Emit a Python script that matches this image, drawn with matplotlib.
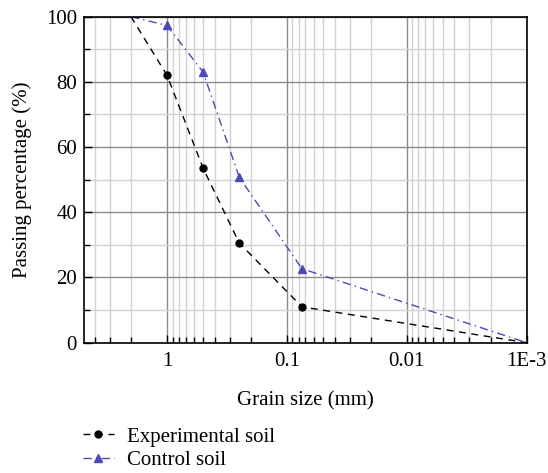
import matplotlib.pyplot as plt
from matplotlib.ticker import FixedLocator, FixedFormatter, LogLocator, MultipleLocator, NullFormatter

plt.rcParams['font.family'] = ['Liberation Serif', 'DejaVu Serif']

# ----------------------------
grain_size   = [2, 1, 0.5, 0.25, 0.075, 0.001]
experimental = [100, 82, 53.5, 30.6, 11.0, 0]
control      = [100, 97.3, 83, 50.8, 22.7, 0]

xtick_values = [1, 0.1, 0.01, 0.001]
xtick_labels = ['1', '0.1', '0.01', '1E-3']
# ----------------------------

fig = plt.figure(figsize=(5.48, 4.73), dpi=100)
ax  = fig.add_axes([0.1533, 0.2755, 0.8077, 0.6892])

blue = '#4B4BB5'
l1, = ax.plot(grain_size, experimental, color='black', linestyle=(0, (5, 4)), linewidth=1.0,
              marker='o', markersize=5, markevery=[1, 2, 3, 4], label='Experimental soil')
l2, = ax.plot(grain_size, control, color=blue, linestyle=(0, (6, 3, 1, 3)), linewidth=1.0,
              marker='^', markersize=6, markevery=[1, 2, 3, 4], label='Control soil')

ax.set_xscale('log')
ax.set_xlim(4.93, 0.001)
ax.set_ylim(0, 100)

ax.xaxis.set_major_locator(FixedLocator(xtick_values))
ax.xaxis.set_major_formatter(FixedFormatter(xtick_labels))
ax.xaxis.set_minor_locator(LogLocator(base=10, subs=range(2, 10), numticks=20))
ax.xaxis.set_minor_formatter(NullFormatter())
ax.yaxis.set_major_locator(MultipleLocator(20))
ax.yaxis.set_minor_locator(MultipleLocator(10))

ax.grid(True, which='major', color='#8c8c8c', linewidth=1.0)
ax.grid(True, which='minor', color='#d2d2d2', linewidth=1.0)
ax.set_axisbelow(True)

ax.tick_params(which='both', direction='in', labelsize=15, color='black')
ax.tick_params(which='major', length=6, width=1)
ax.tick_params(which='minor', length=4, width=1)
ax.tick_params(axis='x', pad=7)
ax.tick_params(axis='y', pad=5)
for sp in ax.spines.values():
    sp.set_linewidth(1.2)

ax.set_xlabel('Grain size (mm)', fontsize=15, labelpad=14)
ax.set_ylabel('Passing percentage (%)', fontsize=15, labelpad=10)

fig.legend(handles=[l1, l2], loc='upper left', bbox_to_anchor=(0.132, 0.119), frameon=False,
           fontsize=15, handlelength=1.5, handletextpad=0.6, labelspacing=0.2, borderpad=0)

fig.savefig('out.png', dpi=100)
